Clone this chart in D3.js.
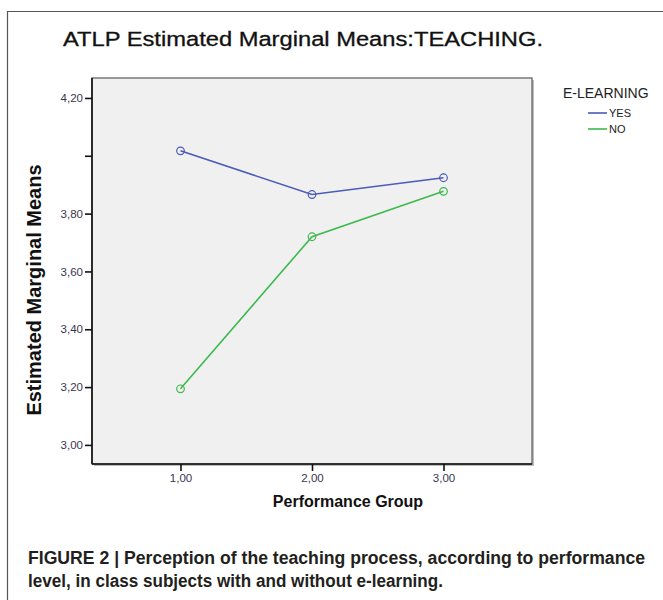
<!DOCTYPE html>
<html>
<head>
<meta charset="utf-8">
<script src="https://cdn.jsdelivr.net/npm/d3@7"></script>
<style>
  body { margin: 0; background: #fff; }
  svg { display: block; }
</style>
</head>
<body>
<svg id="chart" width="663" height="600"></svg>
<script>
// values
var groups = [1, 2, 3];
var yesMeans = [4.017, 3.866, 3.924];
var noMeans = [3.194, 3.720, 3.877];
var yTicks = [3.0, 3.2, 3.4, 3.6, 3.8, 4.0, 4.2];
var seriesNames = ["YES", "NO"];
var seriesColors = ["#4a5bb8", "#3dba4c"];

var svg = d3.select("#chart");

// plot box
var box = { left: 92, right: 532, top: 78, bottom: 464 };

var x = d3.scaleLinear().domain([0.327, 3.673]).range([box.left, box.right]);
var y = d3.scaleLinear().domain([2.934, 4.269]).range([box.bottom, box.top]);

var comma = function(v) { return d3.format(".2f")(v).replace(".", ","); };

// outer frame (runs off the right/bottom edge)
svg.append("line")
    .attr("x1", 7.5).attr("x2", 7.5).attr("y1", 11).attr("y2", 600)
    .attr("stroke", "#555").attr("stroke-width", 1.2);
svg.append("line")
    .attr("x1", 7).attr("x2", 663).attr("y1", 11.5).attr("y2", 11.5)
    .attr("stroke", "#555").attr("stroke-width", 1.2);

// title
svg.append("text")
    .attr("x", 63)
    .attr("y", 46)
    .attr("font-family", "Liberation Sans, Arial, sans-serif")
    .attr("font-size", 20)
    .attr("fill", "#111")
    .attr("stroke", "#111")
    .attr("stroke-width", 0.3)
    .attr("textLength", 480)
    .attr("lengthAdjust", "spacingAndGlyphs")
    .text("ATLP Estimated  Marginal Means:TEACHING.");

// plot background with shadowed border
svg.append("rect")
    .attr("x", box.left + 2).attr("y", box.top + 2)
    .attr("width", box.right - box.left).attr("height", box.bottom - box.top)
    .attr("fill", "#bdbdbd");
svg.append("rect")
    .attr("x", box.left).attr("y", box.top)
    .attr("width", box.right - box.left).attr("height", box.bottom - box.top)
    .attr("fill", "#f0f0f0")
    .attr("stroke", "#666")
    .attr("stroke-width", 1.3);

// axes
var yAxis = d3.axisLeft(y)
    .tickValues(yTicks)
    .tickSize(7)
    .tickPadding(2)
    .tickFormat(function(d) { return Math.abs(d - 4.0) < 1e-6 ? "" : comma(d); });

var xAxis = d3.axisBottom(x)
    .tickValues(groups)
    .tickSize(7)
    .tickPadding(3)
    .tickFormat(comma);

var gy = svg.append("g")
    .attr("transform", "translate(" + box.left + ",0)")
    .call(yAxis);
var gx = svg.append("g")
    .attr("transform", "translate(0," + box.bottom + ")")
    .call(xAxis);

[gx, gy].forEach(function(g) {
    g.select(".domain").attr("stroke", "#111").attr("stroke-width", 1.6);
    g.selectAll(".tick line").attr("stroke", "#111").attr("stroke-width", 1.6);
    g.selectAll(".tick text")
        .attr("font-family", "Liberation Sans, Arial, sans-serif")
        .attr("font-size", 11.5)
        .attr("fill", "#3a3550");
});
gy.select(".domain").attr("d", "M0," + box.top + "V" + box.bottom);
gx.select(".domain").attr("d", "M" + box.left + ",0H" + box.right);

// axis titles
svg.append("text")
    .attr("x", 348)
    .attr("y", 507)
    .attr("text-anchor", "middle")
    .attr("font-family", "Liberation Sans, Arial, sans-serif")
    .attr("font-weight", "bold")
    .attr("font-size", 16)
    .attr("fill", "#111")
    .text("Performance Group");

svg.append("text")
    .attr("transform", "translate(41,290) rotate(-90)")
    .attr("text-anchor", "middle")
    .attr("font-family", "Liberation Sans, Arial, sans-serif")
    .attr("font-weight", "bold")
    .attr("font-size", 20)
    .attr("fill", "#111")
    .text("Estimated Marginal Means");

// series
var series = [yesMeans, noMeans];
var line = d3.line()
    .x(function(d, i) { return x(groups[i]); })
    .y(function(d) { return y(d); });

series.forEach(function(vals, s) {
    svg.append("path")
        .datum(vals)
        .attr("d", line)
        .attr("fill", "none")
        .attr("stroke", seriesColors[s])
        .attr("stroke-width", 1.6);
    svg.selectAll(".pt" + s)
        .data(vals)
        .enter().append("circle")
        .attr("class", "pt" + s)
        .attr("cx", function(d, i) { return x(groups[i]); })
        .attr("cy", function(d) { return y(d); })
        .attr("r", 3.8)
        .attr("fill", "none")
        .attr("stroke", seriesColors[s])
        .attr("stroke-width", 1.2);
});

// legend
svg.append("text")
    .attr("x", 563)
    .attr("y", 98)
    .attr("font-family", "Liberation Sans, Arial, sans-serif")
    .attr("font-size", 14)
    .attr("fill", "#222")
    .text("E-LEARNING");

seriesNames.forEach(function(name, s) {
    var ly = 113 + s * 16;
    svg.append("line")
        .attr("x1", 588).attr("x2", 607)
        .attr("y1", ly).attr("y2", ly)
        .attr("stroke", seriesColors[s])
        .attr("stroke-width", 1.6);
    svg.append("text")
        .attr("x", 609)
        .attr("y", ly + 4)
        .attr("font-family", "Liberation Sans, Arial, sans-serif")
        .attr("font-size", 11)
        .attr("fill", "#222")
        .text(name);
});

// caption
var caption = [
    "FIGURE 2 | Perception of the teaching process, according to performance",
    "level, in class subjects with and without e-learning."
];
svg.selectAll(".cap")
    .data(caption)
    .enter().append("text")
    .attr("class", "cap")
    .attr("x", 28)
    .attr("y", function(d, i) { return 564 + i * 23; })
    .attr("font-family", "Liberation Sans Narrow, Arial Narrow, sans-serif")
    .attr("font-weight", "bold")
    .attr("font-size", 18)
    .attr("fill", "#231f20")
    .attr("textLength", function(d, i) { return i === 0 ? 617 : 415; })
    .attr("lengthAdjust", "spacingAndGlyphs")
    .text(function(d) { return d; });
</script>
</body>
</html>
